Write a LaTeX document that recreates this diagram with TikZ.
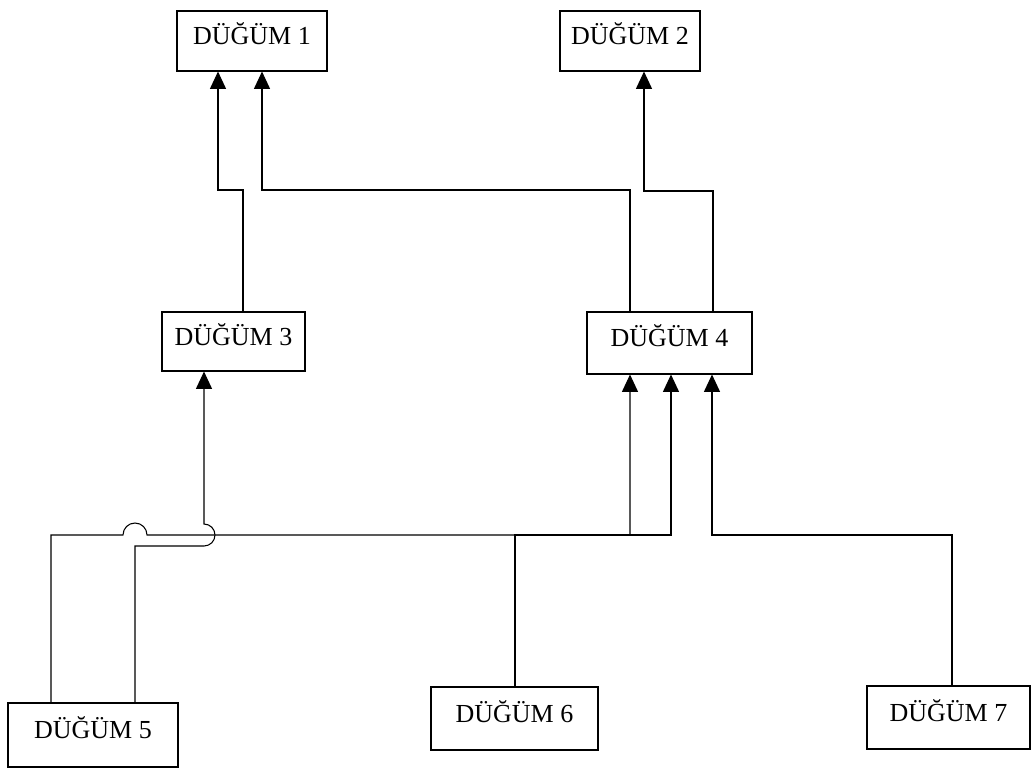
\documentclass[tikz,border=0pt]{standalone}
\usepackage{fontspec}
\setmainfont{Liberation Serif}
\usetikzlibrary{arrows.meta}
\tikzset{
  dugum/.style={draw, line width=0.8pt, inner sep=0pt, text height=9pt, text depth=3.5pt,
                font=\fontsize{19.5}{22}\selectfont},
  wire/.style={line width=0.8pt},
  feed/.style={wire, -{Triangle[width=12pt,length=13pt]}},
}

\begin{document}
\begin{tikzpicture}[x=0.75pt, y=-0.75pt]
  \useasboundingbox (0,0) rectangle (1033,769);
  % nodes
  \node[dugum, minimum width=112.5pt,  minimum height=45pt]    (d1) at (252,41)      {DÜĞÜM 1};
  \node[dugum, minimum width=105pt,    minimum height=45pt]    (d2) at (630,41)      {DÜĞÜM 2};
  \node[dugum, minimum width=107.25pt, minimum height=44.25pt] (d3) at (233.5,341.5) {DÜĞÜM 3};
  \node[dugum, minimum width=123.75pt, minimum height=46.5pt]  (d4) at (669.5,343)   {DÜĞÜM 4};
  \node[dugum, minimum width=127.5pt,  minimum height=48pt]    (d5) at (93,735)      {DÜĞÜM 5};
  \node[dugum, minimum width=125.25pt, minimum height=47.25pt] (d6) at (514.5,718.5) {DÜĞÜM 6};
  \node[dugum, minimum width=122.25pt, minimum height=47.25pt] (d7) at (948.5,717.5) {DÜĞÜM 7};
  % elbows, upper level
  \coordinate (c1) at (218,190);  \coordinate (c2) at (243,190);
  \coordinate (c3) at (262,190);  \coordinate (c4) at (630,190);
  \coordinate (c5) at (644,191);  \coordinate (c6) at (713,191);
  % elbows, lower level
  \coordinate (b1) at (51,535);   \coordinate (h1) at (123,535);
  \coordinate (b2) at (135,546);  \coordinate (b3) at (204,546);
  \coordinate (b4) at (630,535);  \coordinate (b5) at (515,535);
  \coordinate (b6) at (671,535);  \coordinate (b7) at (712,535);
  \coordinate (b8) at (952,535);
  % upper connectors
  \draw[feed] (d3.north -| c2) -- (c2) -- (c1) -- (d1.south -| c1);
  \draw[feed] (d4.north -| c4) -- (c4) -- (c3) -- (d1.south -| c3);
  \draw[feed] (d4.north -| c6) -- (c6) -- (c5) -- (d2.south -| c5);
  % lower connectors, with hops
  \draw[feed] (d5.north -| b1) -- (b1) -- (h1) arc[start angle=180, end angle=0, radius=9pt]
              -- (b4) -- (d4.south -| b4);
  \draw[feed] (d5.north -| b2) -- (b2) -- (b3) arc[start angle=-90, end angle=90, radius=8.25pt]
              -- (d3.south -| b3);
  \draw[feed] (d6.north -| b5) -- (b5) -- (b6) -- (d4.south -| b6);
  \draw[feed] (d7.north -| b8) -- (b8) -- (b7) -- (d4.south -| b7);
\end{tikzpicture}
\end{document}
